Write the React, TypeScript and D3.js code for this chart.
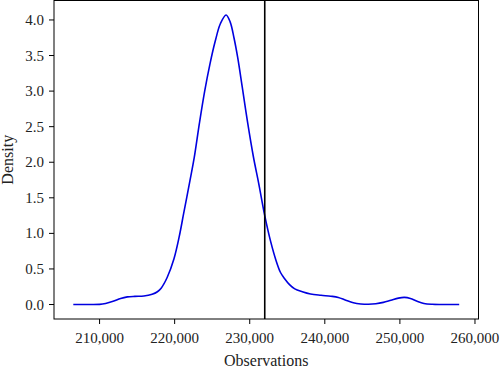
import React, { useRef, useEffect } from "react";
import * as d3 from "d3";

// Kernel density estimate
const observations = [
  206500, 208500, 210000, 210800, 211800, 212800, 213700, 214700, 215900,
  217000, 217700, 218200, 219000, 219900, 220600, 221200, 222000, 222600,
  223300, 224000, 224700, 225400, 226100, 226850, 227400, 227900, 228400,
  229000, 229700, 230500, 231200, 232000, 232800, 233500, 234100, 234600,
  235300, 236000, 237000, 238100, 239500, 240800, 241800, 242800, 243800,
  244800, 245800, 246800, 247800, 248800, 249800, 250600, 251400, 252300,
  253200, 254300, 255500, 257900,
];
const density = [
  0, 0, 0.002, 0.015, 0.045, 0.085, 0.107, 0.115, 0.12, 0.145, 0.18, 0.23,
  0.38, 0.64, 0.95, 1.28, 1.72, 2.06, 2.55, 3.0, 3.38, 3.7, 3.95, 4.07, 3.97,
  3.75, 3.47, 3.06, 2.57, 2.07, 1.7, 1.25, 0.88, 0.62, 0.45, 0.37, 0.28, 0.22,
  0.18, 0.148, 0.13, 0.117, 0.1, 0.06, 0.025, 0.008, 0.003, 0.01, 0.03, 0.06,
  0.09, 0.1, 0.085, 0.045, 0.015, 0.003, 0, 0,
];
const markerValue = 232000;
const xTicks = [210000, 220000, 230000, 240000, 250000, 260000];
const yTicks = [0, 0.5, 1, 1.5, 2, 2.5, 3, 3.5, 4];

const FONT = "'Liberation Serif', 'Times New Roman', serif";

const DensityChart: React.FC = () => {
  const ref = useRef<SVGSVGElement | null>(null);

  useEffect(() => {
    const width = 500;
    const height = 369;
    const margin = { top: 0.5, right: 21.5, bottom: 50, left: 54 };
    const w = width - margin.left - margin.right;
    const h = height - margin.top - margin.bottom;

    d3.select(ref.current).selectAll("*").remove();

    const svg = d3
      .select(ref.current)
      .attr("width", width)
      .attr("height", height)
      .style("font-family", FONT)
      .append("g")
      .attr("transform", `translate(${margin.left},${margin.top})`);

    // matplotlib-style 5% padding around the data
    const xExt = d3.extent(observations) as [number, number];
    const xPad = (xExt[1] - xExt[0]) * 0.05;
    const yMax = d3.max(density) ?? 1;
    const yPad = yMax * 0.05;

    const x = d3.scaleLinear().domain([xExt[0] - xPad, xExt[1] + xPad]).range([0, w]);
    const y = d3.scaleLinear().domain([-yPad, yMax + yPad]).range([h, 0]);

    const points = observations.map((o, i) => ({ x: o, y: density[i] }));

    const line = d3
      .line<{ x: number; y: number }>()
      .x((d) => x(d.x))
      .y((d) => y(d.y))
      .curve(d3.curveCatmullRom.alpha(0.5));

    svg
      .append("path")
      .datum(points)
      .attr("fill", "none")
      .attr("stroke", "#0000e0")
      .attr("stroke-width", 1.6)
      .attr("d", line);

    // vertical marker
    svg
      .append("line")
      .attr("x1", x(markerValue))
      .attr("x2", x(markerValue))
      .attr("y1", 0)
      .attr("y2", h)
      .attr("stroke", "#000")
      .attr("stroke-width", 1.6);

    // x ticks
    const fmtX = d3.format(",");
    const xt = svg
      .selectAll(".xtick")
      .data(xTicks)
      .enter()
      .append("g")
      .attr("class", "xtick")
      .attr("transform", (d) => `translate(${x(d)},${h})`);
    xt.append("line").attr("y2", 5).attr("stroke", "#000");
    xt.append("text")
      .attr("y", 24)
      .attr("text-anchor", "middle")
      .attr("fill", "#222")
      .style("font-size", "15px")
      .text((d) => fmtX(d));

    // y ticks
    const fmtY = d3.format(".1f");
    const yt = svg
      .selectAll(".ytick")
      .data(yTicks)
      .enter()
      .append("g")
      .attr("class", "ytick")
      .attr("transform", (d) => `translate(0,${y(d)})`);
    yt.append("line").attr("x2", -5).attr("stroke", "#000");
    yt.append("text")
      .attr("x", -10)
      .attr("dy", "0.34em")
      .attr("text-anchor", "end")
      .attr("fill", "#222")
      .style("font-size", "15px")
      .text((d) => fmtY(d));

    // frame
    svg
      .append("rect")
      .attr("x", 0)
      .attr("y", 0)
      .attr("width", w)
      .attr("height", h)
      .attr("fill", "none")
      .attr("stroke", "#000")
      .attr("stroke-width", 1);

    svg
      .append("text")
      .attr("text-anchor", "middle")
      .attr("x", w / 2)
      .attr("y", h + 47)
      .attr("fill", "#222")
      .style("font-size", "16px")
      .text("Observations");
    svg
      .append("text")
      .attr("text-anchor", "middle")
      .attr("transform", "rotate(-90)")
      .attr("x", -h / 2)
      .attr("y", -margin.left + 13)
      .attr("fill", "#222")
      .style("font-size", "16px")
      .text("Density");
  }, []);

  return <svg ref={ref} style={{ position: "absolute", left: 0, top: 0 }} />;
};

export default function App() {
  return <DensityChart />;
}
